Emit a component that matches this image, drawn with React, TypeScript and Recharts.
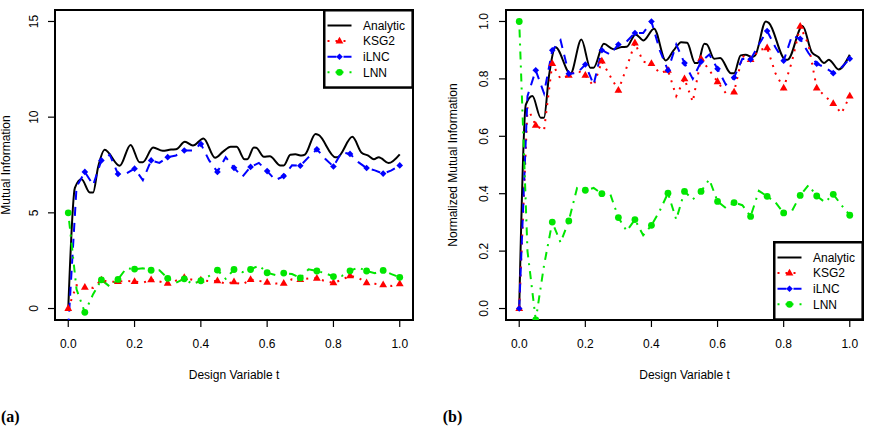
import { LineChart, Line, XAxis, YAxis, ReferenceArea, Legend } from 'recharts';

const FONT = '"Liberation Sans", Arial, Helvetica, sans-serif';

// shared t grid for the estimators (markers every 0.05)
const T_GRID = [
  0, 0.025, 0.05, 0.075, 0.1, 0.125, 0.15, 0.175, 0.2, 0.225, 0.25, 0.275, 0.3, 0.325,
  0.35, 0.375, 0.4, 0.425, 0.45, 0.475, 0.5, 0.525, 0.55, 0.575, 0.6, 0.625, 0.65, 0.675,
  0.7, 0.725, 0.75, 0.775, 0.8, 0.825, 0.85, 0.875, 0.9, 0.925, 0.95, 0.975, 1,
];

// analytic curve, read at its peaks and troughs
const ANALYTIC_T = [
  0, 0.02, 0.04, 0.065, 0.075, 0.09, 0.11, 0.155, 0.188, 0.215, 0.225, 0.256, 0.285, 0.31,
  0.325, 0.352, 0.376, 0.408, 0.443, 0.467, 0.49, 0.508, 0.532, 0.54, 0.56, 0.567, 0.59,
  0.608, 0.64, 0.65, 0.67, 0.685, 0.704, 0.714, 0.746, 0.755, 0.806, 0.812, 0.857, 0.885,
  0.905, 0.922, 0.937, 0.945, 0.966, 1,
];
const ANALYTIC_A = [
  0, 6.3, 6.75, 6.06, 6.06, 7.39, 8.3, 7.46, 8.55, 7.65, 7.65, 8.41, 8.24, 8.31, 8.32, 8.71,
  8.52, 8.89, 7.88, 8.2, 8.46, 8.45, 7.8, 7.8, 8.41, 8.4, 7.93, 7.96, 7.48, 7.48, 8.04, 8.06,
  7.99, 8.04, 9.12, 9.07, 7.91, 7.91, 8.97, 8.14, 7.99, 7.8, 7.91, 7.84, 7.6, 8.06,
];
const ANALYTIC_B = [
  0, 0.71, 0.74, 0.665, 0.665, 0.81, 0.91, 0.818, 0.937, 0.839, 0.839, 0.922, 0.903, 0.911,
  0.912, 0.955, 0.934, 0.975, 0.864, 0.899, 0.928, 0.926, 0.855, 0.855, 0.922, 0.921, 0.87,
  0.873, 0.82, 0.82, 0.882, 0.884, 0.876, 0.882, 1.0, 0.995, 0.867, 0.867, 0.984, 0.893,
  0.876, 0.855, 0.867, 0.86, 0.833, 0.884,
];

// panel (a): mutual information
const KSG2_A = [
  0, 1.22, 1.11, 1.08, 1.48, 1.39, 1.41, 1.44, 1.41, 1.35, 1.5, 1.41, 1.32, 1.46, 1.61, 1.5,
  1.48, 1.43, 1.44, 1.29, 1.39, 1.25, 1.51, 1.44, 1.37, 1.31, 1.31, 1.53, 1.51, 1.57, 1.58,
  1.43, 1.34, 1.5, 1.71, 1.6, 1.34, 1.29, 1.24, 1.18, 1.29,
];
const ILNC_A = [
  -1, 6.36, 7.14, 6.45, 7.74, 8.04, 7.03, 7.05, 7.31, 6.71, 7.74, 7.61, 7.91, 8.0, 8.26, 8.26,
  8.6, 7.74, 7.14, 7.91, 7.35, 6.88, 7.4, 7.61, 7.18, 6.71, 6.92, 7.48, 7.46, 7.91, 8.32, 7.83,
  7.42, 8.17, 8.08, 7.65, 7.34, 7.22, 7.05, 7.22, 7.48,
];
const LNN_A = [
  5.0, 1.0, -0.2, 0.75, 1.5, 1.15, 1.52, 2.1, 2.06, 2.1, 2.0, 2.0, 1.58, 1.35, 1.55, 1.28,
  1.45, 1.7, 2.01, 1.55, 2.04, 1.9, 2.04, 2.25, 1.87, 1.75, 1.85, 1.8, 1.6, 2.05, 1.96, 1.85,
  1.67, 1.7, 1.97, 2.15, 1.96, 1.85, 1.99, 1.8, 1.63,
];

// panel (b): normalized mutual information
const KSG2_B = [
  0, 0.7, 0.638, 0.62, 0.853, 0.8, 0.812, 0.83, 0.812, 0.775, 0.862, 0.81, 0.76, 0.84, 0.925,
  0.86, 0.853, 0.82, 0.83, 0.74, 0.8, 0.72, 0.87, 0.83, 0.79, 0.75, 0.754, 0.88, 0.867, 0.9,
  0.908, 0.82, 0.768, 0.86, 0.983, 0.92, 0.768, 0.74, 0.714, 0.68, 0.74,
];
const ILNC_B = [
  0, 0.74, 0.83, 0.75, 0.9, 0.935, 0.818, 0.82, 0.85, 0.78, 0.9, 0.885, 0.92, 0.93, 0.96, 0.96,
  1.0, 0.9, 0.83, 0.92, 0.855, 0.8, 0.86, 0.885, 0.835, 0.78, 0.805, 0.87, 0.868, 0.92, 0.967,
  0.91, 0.863, 0.95, 0.94, 0.89, 0.853, 0.84, 0.82, 0.84, 0.87,
];
const LNN_B = [
  1.0, 0.2, -0.04, 0.15, 0.301, 0.23, 0.305, 0.42, 0.412, 0.42, 0.4, 0.4, 0.317, 0.27, 0.31,
  0.255, 0.29, 0.34, 0.402, 0.31, 0.408, 0.38, 0.408, 0.45, 0.373, 0.35, 0.369, 0.36, 0.321,
  0.41, 0.391, 0.37, 0.333, 0.34, 0.394, 0.43, 0.392, 0.37, 0.398, 0.36, 0.325,
];

const X_TICKS = [0, 0.2, 0.4, 0.6, 0.8, 1];
const Y_TICKS_A = [0, 5, 10, 15];
const Y_TICKS_B = [0, 0.2, 0.4, 0.6, 0.8, 1];

type Shape = 'triangle' | 'diamond' | 'circle';

const SERIES = [
  { key: 'analytic', name: 'Analytic', color: '#000000', dash: undefined, marker: null },
  { key: 'ksg2', name: 'KSG2', color: '#ff0000', dash: '2 6', marker: 'triangle' },
  { key: 'ilnc', name: 'iLNC', color: '#0000ff', dash: '9 7', marker: 'diamond' },
  { key: 'lnn', name: 'LNN', color: '#00e600', dash: '2 6 8 6', marker: 'circle' },
] as const;

function toRows(ts: number[], ys: number[]) {
  return ts.map((t, i) => ({ t, v: ys[i] }));
}

function Marker({ shape, cx, cy, color }: { shape: Shape; cx: number; cy: number; color: string }) {
  if (shape === 'triangle') {
    return (
      <polygon
        points={`${cx},${cy - 4.4} ${cx - 3.9},${cy + 2.4} ${cx + 3.9},${cy + 2.4}`}
        fill={color}
      />
    );
  }
  if (shape === 'diamond') {
    return (
      <polygon
        points={`${cx},${cy - 3.3} ${cx + 3.3},${cy} ${cx},${cy + 3.3} ${cx - 3.3},${cy}`}
        fill={color}
      />
    );
  }
  return <circle cx={cx} cy={cy} r={3.4} fill={color} />;
}

function markerDot(shape: Shape, color: string) {
  return (props: any) => {
    const { cx, cy, index } = props;
    if (cx == null || cy == null || index % 2 !== 0) return <g key={`d-${index}`} />;
    return (
      <g key={`d-${index}`}>
        <Marker shape={shape} cx={cx} cy={cy} color={color} />
      </g>
    );
  };
}

function RotatedTick(props: any) {
  const { x, y, payload, digits } = props;
  const label = digits ? Number(payload.value).toFixed(digits) : String(payload.value);
  return (
    <text
      x={x}
      y={y}
      transform={`rotate(-90 ${x} ${y})`}
      textAnchor="middle"
      fontSize={12}
      fontFamily={FONT}
      fill="#000"
    >
      {label}
    </text>
  );
}

function titleText(x: number, y: number, text: string, vertical = false) {
  return (
    <text
      x={x}
      y={y}
      transform={vertical ? `rotate(-90 ${x} ${y})` : undefined}
      textAnchor="middle"
      fontSize={12}
      fontFamily={FONT}
      fill="#000"
    >
      {text}
    </text>
  );
}

function LegendBox() {
  return (
    <svg width={92} height={80} style={{ display: 'block' }}>
      <rect x={1.25} y={1.25} width={88.4} height={77.3} fill="#fff" stroke="#000" strokeWidth={2.5} />
      {SERIES.map((s, i) => {
        const cy = 16.5 + i * 15.6;
        return (
          <g key={s.key}>
            <line
              x1={4.5}
              x2={28.5}
              y1={cy}
              y2={cy}
              stroke={s.color}
              strokeWidth={2}
              strokeDasharray={s.dash}
            />
            {s.marker && <Marker shape={s.marker} cx={16.5} cy={cy} color={s.color} />}
            <text x={40} y={cy + 4.3} fontSize={12} fontFamily={FONT} fill="#000">
              {s.name}
            </text>
          </g>
        );
      })}
    </svg>
  );
}

interface PanelProps {
  left: number;
  yWidth: number;
  marginRight: number;
  yDomain: [number, number];
  yTicks: number[];
  yDigits: number;
  yTickMargin: number;
  yTitle: string;
  yTitleX: number;
  analytic: number[];
  ksg2: number[];
  ilnc: number[];
  lnn: number[];
  legendLeft: number;
  legendTop: number;
}

function Panel(p: PanelProps) {
  const width = 430;
  const plotLeft = p.yWidth;
  const plotRight = width - p.marginRight;
  const seriesData = {
    analytic: toRows(ANALYTIC_T, p.analytic),
    ksg2: toRows(T_GRID, p.ksg2),
    ilnc: toRows(T_GRID, p.ilnc),
    lnn: toRows(T_GRID, p.lnn),
  };
  return (
    <div style={{ position: 'absolute', left: p.left, top: 0 }}>
      <LineChart
        width={width}
        height={428}
        margin={{ top: 10, right: p.marginRight, bottom: 0, left: 0 }}
        style={{ fontFamily: FONT }}
      >
        <XAxis
          dataKey="t"
          type="number"
          domain={[-0.04, 1.04]}
          ticks={X_TICKS}
          interval={0}
          allowDataOverflow
          tickFormatter={(v: number) => v.toFixed(1)}
          axisLine={false}
          tickSize={7}
          tickMargin={12}
          tickLine={{ stroke: '#000', strokeWidth: 1.2 }}
          tick={{ fill: '#000', fontSize: 12, fontFamily: FONT }}
          height={108}
          label={{ content: () => titleText((plotLeft + plotRight) / 2, 378.6, 'Design Variable t') }}
        />
        <YAxis
          type="number"
          domain={p.yDomain}
          ticks={p.yTicks}
          interval={0}
          allowDataOverflow
          axisLine={false}
          tickSize={7}
          tickMargin={p.yTickMargin}
          tickLine={{ stroke: '#000', strokeWidth: 1.2 }}
          tick={<RotatedTick digits={p.yDigits} />}
          width={p.yWidth}
          label={{ content: () => titleText(p.yTitleX, 165, p.yTitle, true) }}
        />
        <ReferenceArea
          x1={-0.04}
          x2={1.04}
          y1={p.yDomain[0]}
          y2={p.yDomain[1]}
          fill="none"
          fillOpacity={0}
          stroke="#000"
          strokeWidth={2}
          ifOverflow="visible"
        />
        {SERIES.map((s) => (
          <Line
            key={s.key}
            data={seriesData[s.key]}
            dataKey="v"
            name={s.name}
            type={s.key === 'analytic' ? 'monotone' : 'linear'}
            stroke={s.color}
            strokeWidth={2}
            strokeDasharray={s.dash}
            dot={s.marker ? markerDot(s.marker, s.color) : false}
            activeDot={false}
            isAnimationActive={false}
          />
        ))}
        <Legend
          layout="vertical"
          align="center"
          verticalAlign="middle"
          content={() => <LegendBox />}
          wrapperStyle={{ left: p.legendLeft - 1.25, top: p.legendTop - 1.25, width: 92, height: 80 }}
        />
      </LineChart>
    </div>
  );
}

const panelLabel: React.CSSProperties = {
  position: 'absolute',
  top: 408.6,
  fontFamily: '"Liberation Serif", "Times New Roman", serif',
  fontWeight: 'bold',
  fontSize: 16,
  lineHeight: '16px',
  color: '#000',
  whiteSpace: 'nowrap',
};

export default function App() {
  return (
    <div
      style={{
        position: 'absolute',
        left: 0,
        top: 0,
        width: 870,
        height: 428,
        background: '#fff',
        overflow: 'hidden',
      }}
    >
      <Panel
        left={0}
        yWidth={55}
        marginRight={17}
        yDomain={[-0.6, 15.6]}
        yTicks={Y_TICKS_A}
        yDigits={0}
        yTickMargin={9.5}
        yTitle="Mutual Information"
        yTitleX={9.5}
        analytic={ANALYTIC_A}
        ksg2={KSG2_A}
        ilnc={ILNC_A}
        lnn={LNN_A}
        legendLeft={324.3}
        legendTop={10}
      />
      <Panel
        left={440}
        yWidth={66}
        marginRight={7}
        yDomain={[-0.04, 1.04]}
        yTicks={Y_TICKS_B}
        yDigits={1}
        yTickMargin={11}
        yTitle="Normalized Mutual Information"
        yTitleX={16.7}
        analytic={ANALYTIC_B}
        ksg2={KSG2_B}
        ilnc={ILNC_B}
        lnn={LNN_B}
        legendLeft={334.3}
        legendTop={242.3}
      />
      <div style={{ ...panelLabel, left: 1 }}>(a)</div>
      <div style={{ ...panelLabel, left: 442.7 }}>(b)</div>
    </div>
  );
}
